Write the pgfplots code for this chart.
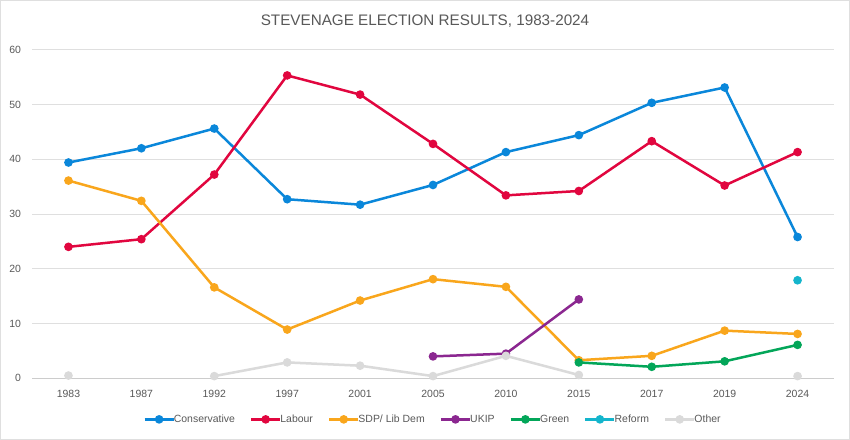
\documentclass[border=0pt]{standalone}
\usepackage{pgfplots}
\pgfplotsset{compat=1.18}
\usepackage{fontspec}
\setmainfont{Liberation Sans}
\definecolor{con}{HTML}{0A87DA}
\definecolor{lab}{HTML}{E1063F}
\definecolor{ld}{HTML}{F9A61C}
\definecolor{ukip}{HTML}{8B2790}
\definecolor{grn}{HTML}{03A659}
\definecolor{ref}{HTML}{14B5CC}
\definecolor{oth}{HTML}{DADADA}
\definecolor{txt}{HTML}{595959}
\begin{document}
\begin{tikzpicture}[x=1bp,y=1bp]
\useasboundingbox (0,0) rectangle (850,440);
\fill[white] (0,0) rectangle (850,440);
\draw[gray!25, line width=1bp] (0.5,0.5) rectangle (849.5,439.5);
\node[text=txt, font=\fontsize{15.3}{17}\selectfont] at (425,419) {STEVENAGE ELECTION RESULTS, 1983-2024};
\begin{axis}[
  at={(32bp,61.7bp)}, anchor=south west,
  scale only axis, width=802bp, height=328.6bp,
  xmin=-0.5, xmax=10.5, ymin=0, ymax=60,
  xtick={0,...,10},
  xticklabels={1983,1987,1992,1997,2001,2005,2010,2015,2017,2019,2024},
  ytick={0,10,...,60},
  axis x line*=bottom,
  axis y line*=left,
  x axis line style={draw=gray!40, line width=0.8bp, -},
  y axis line style={draw=none},
  ymajorgrids, grid style={gray!25, line width=0.8bp},
  major tick length=0pt,
  tick label style={text=txt, font=\fontsize{10.5}{12}\selectfont},
  /pgf/number format/assume math mode=true,
  yticklabel style={xshift=-7.5bp},
  xticklabel style={yshift=-8.5bp},
  unbounded coords=jump,
  every axis plot/.append style={line width=2.5bp, mark=*, mark size=3bp},
  legend style={at={(0.5,-0.125)}, anchor=center, draw=none, fill=none,
    legend columns=-1, font=\fontsize{10.5}{12}\selectfont, text=txt,
    /tikz/every even column/.append style={column sep=13bp},
    /tikz/every odd column/.append style={column sep=-3bp}},
  legend image code/.code={
    \draw[#1, mark=none] (0bp,0bp) -- (29bp,0bp);
    \fill[#1] (14.5bp,0bp) circle (3bp);
  },
  clip=false,
]
\addplot[con] coordinates {(0,39.4) (1,42.0) (2,45.6) (3,32.7) (4,31.7) (5,35.3) (6,41.3) (7,44.4) (8,50.3) (9,53.1) (10,25.8)};
\addlegendentry{Conservative}
\addplot[lab] coordinates {(0,24.0) (1,25.4) (2,37.2) (3,55.3) (4,51.8) (5,42.8) (6,33.4) (7,34.2) (8,43.3) (9,35.2) (10,41.3)};
\addlegendentry{Labour}
\addplot[ld] coordinates {(0,36.1) (1,32.4) (2,16.6) (3,8.9) (4,14.2) (5,18.1) (6,16.7) (7,3.3) (8,4.1) (9,8.7) (10,8.1)};
\addlegendentry{SDP/ Lib Dem}
\addplot[ukip] coordinates {(5,4.0) (6,4.5) (7,14.4)};
\addlegendentry{UKIP}
\addplot[grn] coordinates {(7,2.9) (8,2.1) (9,3.1) (10,6.1)};
\addlegendentry{Green}
\addplot[ref] coordinates {(10,17.9)};
\addlegendentry{Reform}
\addplot[oth] coordinates {(0,0.5) (1,nan) (2,0.4) (3,2.9) (4,2.3) (5,0.4) (6,4.1) (7,0.6) (8,nan) (9,nan) (10,0.4)};
\addlegendentry{Other}
\end{axis}
\end{tikzpicture}
\end{document}
